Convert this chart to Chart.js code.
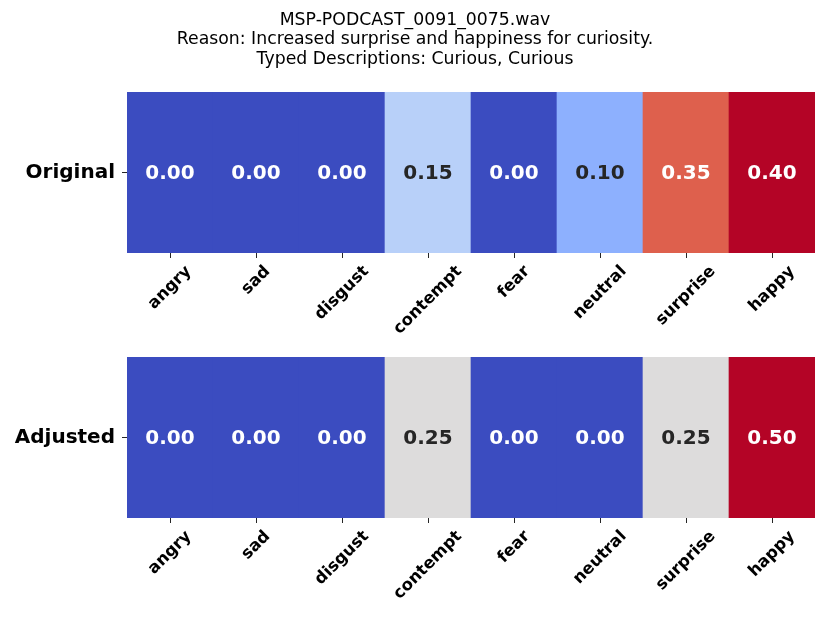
<!doctype html>
<html>

<head>
	<title>Emotion heatmap</title>
	<script src="https://cdn.jsdelivr.net/npm/chart.js@4/dist/chart.umd.min.js"></script>
	<style>
	body { margin: 0; background: #fff; }
	.box { position: absolute; left: 0; width: 830px; height: 340px; }
	</style>
</head>

<body>
	<div class="box" style="top:0"><canvas id="orig" width="830" height="340"></canvas></div>
	<div class="box" style="top:265px"><canvas id="adj" width="830" height="340"></canvas></div>
	<script>
		const emotions = ['angry', 'sad', 'disgust', 'contempt', 'fear', 'neutral', 'surprise', 'happy'];
		const originalValues = [0.00, 0.00, 0.00, 0.15, 0.00, 0.10, 0.35, 0.40];
		const adjustedValues = [0.00, 0.00, 0.00, 0.25, 0.00, 0.00, 0.25, 0.50];
		const titleLines = [
			'MSP-PODCAST_0091_0075.wav',
			'Reason: Increased surprise and happiness for curiosity.',
			'Typed Descriptions: Curious, Curious'
		];

		Chart.defaults.font.family = "'DejaVu Sans', sans-serif";

		// matplotlib coolwarm, sampled every 1/8
		const coolwarm = [
			[59, 76, 192], [98, 130, 234], [141, 176, 254], [184, 208, 249],
			[221, 220, 220], [245, 196, 173], [244, 154, 123], [222, 96, 77], [180, 4, 38]
		];
		function cmap(t) {
			t = Math.max(0, Math.min(1, t)) * (coolwarm.length - 1);
			const i = Math.min(Math.floor(t), coolwarm.length - 2);
			const f = t - i;
			return coolwarm[i].map((c, k) => Math.round(c + (coolwarm[i + 1][k] - c) * f));
		}
		function luminance(rgb) {
			const lin = rgb.map(c => {
				c /= 255;
				return c <= 0.03928 ? c / 12.92 : Math.pow((c + 0.055) / 1.055, 2.4);
			});
			return 0.2126 * lin[0] + 0.7152 * lin[1] + 0.0722 * lin[2];
		}

		// cell annotations + 45deg x labels centred on their ticks (matplotlib style)
		const cellLabels = {
			id: 'cellLabels',
			afterDatasetsDraw(chart) {
				const ctx = chart.ctx;
				const opts = chart.options.plugins.cellLabels;
				ctx.save();
				ctx.font = "bold 20px 'DejaVu Sans', sans-serif";
				ctx.textAlign = 'center';
				ctx.textBaseline = 'middle';
				chart.getDatasetMeta(0).data.forEach((bar, i) => {
					ctx.fillStyle = luminance(opts.rgb[i]) > 0.408 ? '#262626' : '#ffffff';
					ctx.fillText(opts.values[i].toFixed(2), bar.x, (bar.y + bar.base) / 2 + 1);
				});
				ctx.restore();
			},
			afterDraw(chart) {
				const ctx = chart.ctx;
				const xs = chart.scales.x;
				const size = 16.5;
				ctx.save();
				ctx.font = `bold ${size}px 'DejaVu Sans', sans-serif`;
				ctx.fillStyle = '#000';
				ctx.textAlign = 'center';
				ctx.textBaseline = 'middle';
				xs.ticks.forEach((t, i) => {
					const label = emotions[i];
					const w = ctx.measureText(label).width;
					const boxH = (w + size * 1.164) * Math.SQRT1_2;
					const cy = xs.top + 9 + boxH / 2;
					ctx.save();
					ctx.translate(xs.getPixelForTick(i), cy);
					ctx.rotate(-Math.PI / 4);
					ctx.fillText(label, 0, 0);
					ctx.restore();
				});
				ctx.restore();
			}
		};

		function makeHeatmap(id, rowLabel, values, withTitle) {
			const vmax = Math.max(...values);
			const rgb = values.map(v => cmap(v / vmax));
			return new Chart(document.getElementById(id), {
				type: 'bar',
				data: {
					labels: emotions,
					datasets: [{
						data: values.map(() => [0, 1]),
						backgroundColor: rgb.map(c => `rgb(${c[0]},${c[1]},${c[2]})`),
						borderWidth: 0,
						barPercentage: 1,
						categoryPercentage: 1
					}]
				},
				plugins: [cellLabels],
				options: {
					responsive: false,
					animation: false,
					events: [],
					layout: { padding: { top: withTitle ? 0 : 92, left: 0, right: 0, bottom: 0 } },
					plugins: {
						legend: { display: false },
						tooltip: { enabled: false },
						title: {
							display: withTitle,
							text: titleLines,
							color: '#000',
							font: { size: 17.3, weight: 'normal', lineHeight: '19.5px' },
							padding: { top: 10.5, bottom: 23 }
						},
						cellLabels: { values: values, rgb: rgb }
					},
					scales: {
						x: {
							type: 'category',
							grid: { drawOnChartArea: false, offset: false, tickLength: 5, tickColor: '#262626', tickWidth: 1 },
							border: { display: false },
							ticks: { display: false },
							afterFit(s) { s.height = 87; s.paddingLeft = 0; s.paddingRight = 0; }
						},
						y: {
							type: 'linear',
							min: 0,
							max: 1,
							reverse: true,
							grid: { drawOnChartArea: false, tickLength: 5, tickColor: '#262626', tickWidth: 1 },
							border: { display: false },
							ticks: {
								color: '#000',
								font: { size: 20, weight: 'bold' },
								padding: 7,
								callback: () => rowLabel
							},
							afterBuildTicks(s) { s.ticks = [{ value: 0.5 }]; },
							afterFit(s) { s.width = 127; }
						},
						yR: {
							type: 'linear',
							position: 'right',
							grid: { display: false },
							border: { display: false },
							ticks: { display: false },
							afterFit(s) { s.width = 15; }
						}
					}
				}
			});
		}

		makeHeatmap('orig', 'Original', originalValues, true);
		makeHeatmap('adj', 'Adjusted', adjustedValues, false);
	</script>
</body>

</html>
